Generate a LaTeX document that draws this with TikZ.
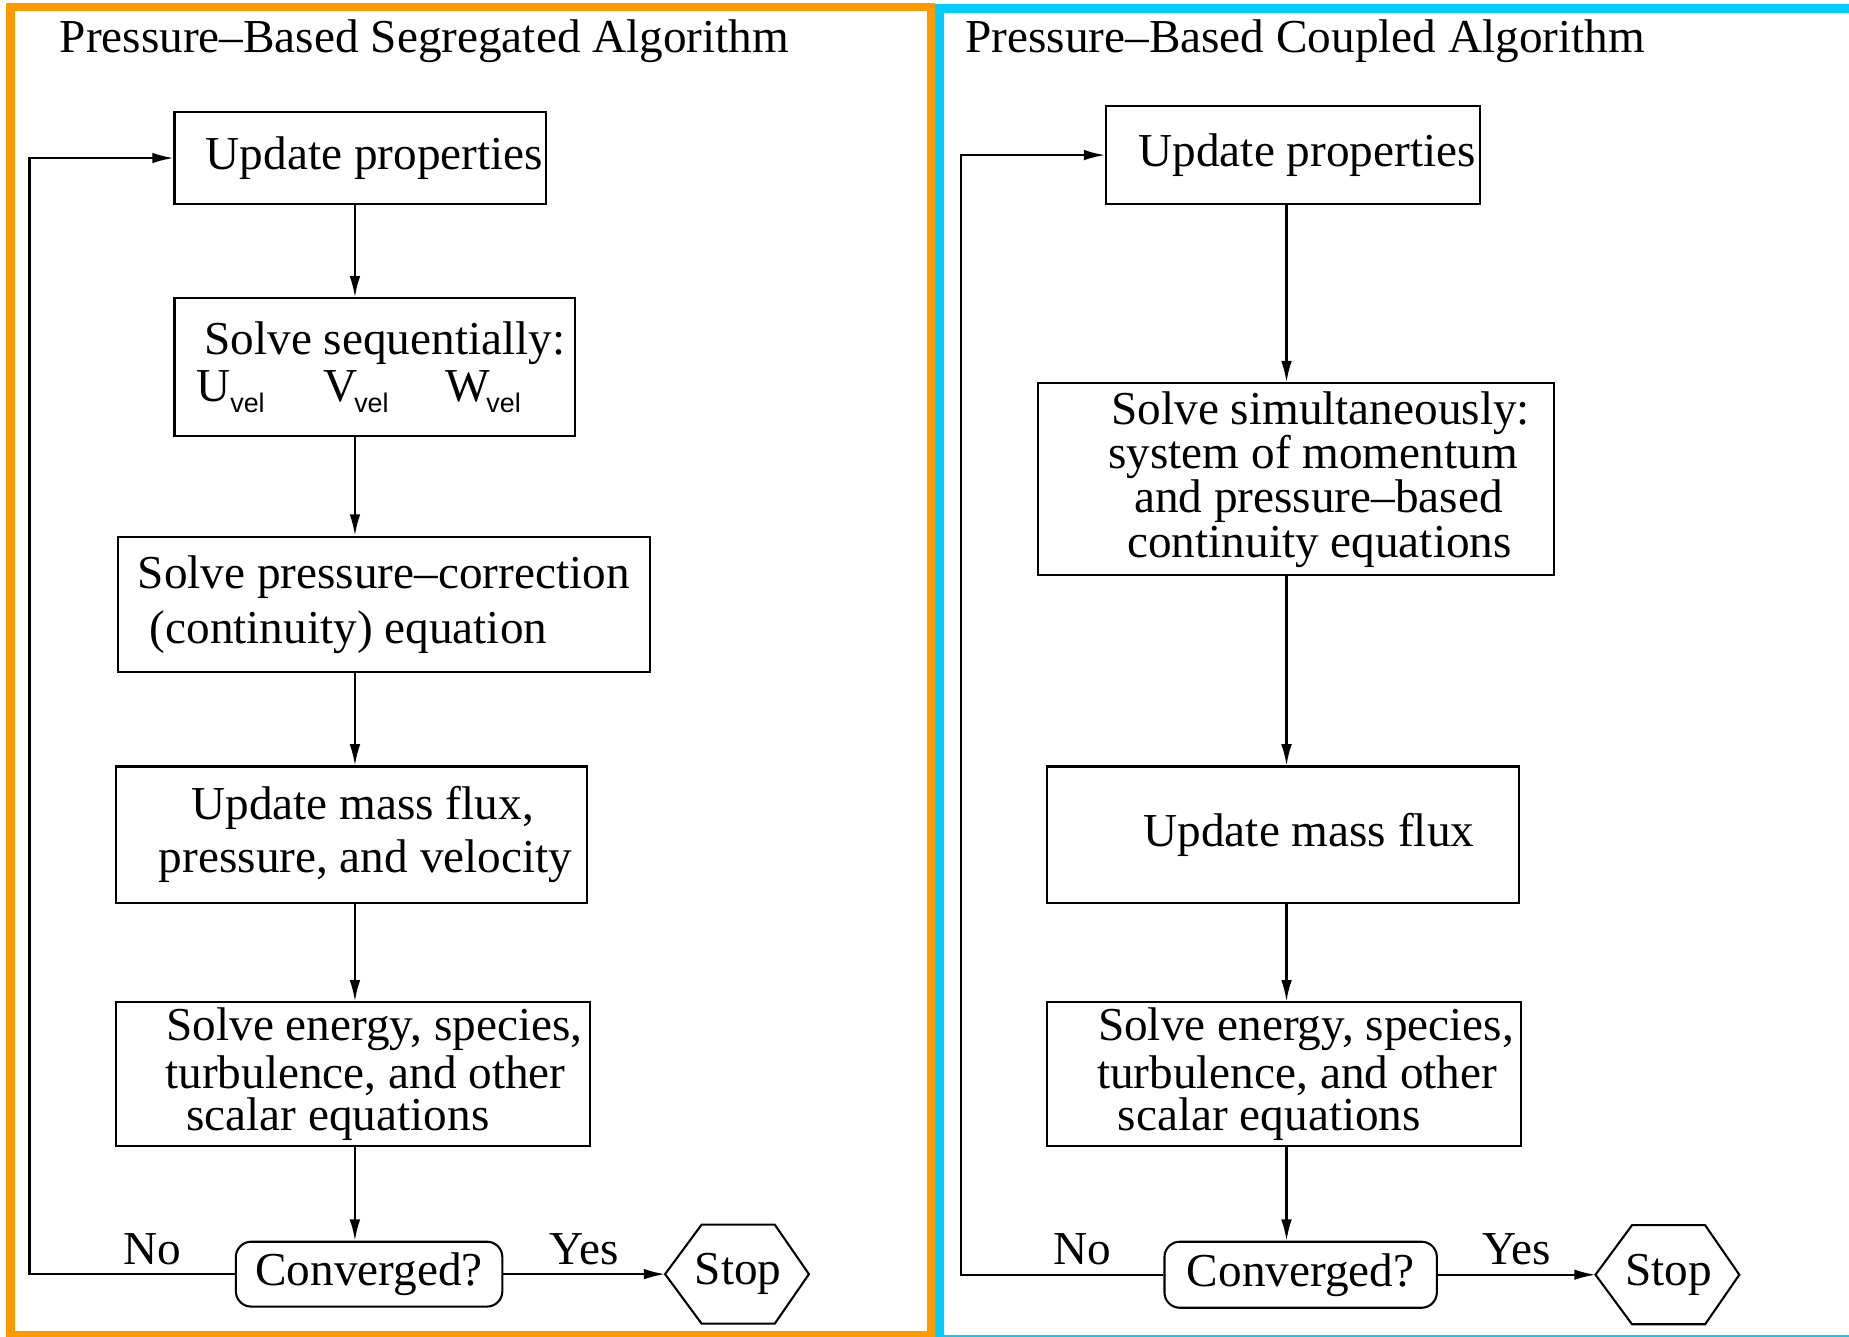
\documentclass[tikz,border=0pt]{standalone}
\usepackage{fontspec}
\setmainfont{Liberation Serif}
\setsansfont{Liberation Sans}
\usetikzlibrary{arrows.meta}
\definecolor{segorange}{HTML}{FF9900}
\definecolor{coupcyan}{HTML}{00CCFF}
\newcommand{\padl}[1]{\rule{#1}{0pt}}
\newcommand{\vel}[2][0mm]{#2\kern#1\raisebox{-0.5ex}{\sffamily\fontsize{6.5}{7}\selectfont vel}}
\begin{document}
\begin{tikzpicture}[x=0.1mm,y=-0.1mm,>={Latex[length=1.8mm,width=0.9mm]},
  every node/.style={font=\fontsize{11.4}{13}\selectfont},
  box/.style={draw,line width=0.5pt,inner sep=0pt,align=center},
  conv/.style={box,rounded corners=1.3mm},
  lbl/.style={above,inner sep=2pt},
  title/.style={anchor=west,inner sep=0pt},
  flow/.style={->,line width=0.5pt}]
  \useasboundingbox (0,0) rectangle (1568,1133);
  \draw[segorange,line width=0.7mm] (9,5.7) rectangle (789.5,1132.5);
  \draw[coupcyan,line width=0.75mm] (796.5,7) rectangle (1600,1136);

  % segregated
  \node[title] (ltitle) at (50,35) {Pressure--Based Segregated Algorithm};
  \node[box,minimum width=31.5mm,minimum height=7.8mm] (lup) at (305.5,134) {\padl{2.4mm}Update properties};
  \node[box,minimum width=34mm,minimum height=11.7mm,font=\fontsize{11.4}{11.5}\selectfont] (lseq) at (318,311.5)
    {\padl{1.7mm}Solve sequentially:\\ \vel{U}\hspace{5mm}\vel[-0.3mm]{V}\hspace{4.8mm}\vel[-0.3mm]{W}\padl{2.8mm}};
  \node[box,minimum width=45.1mm,minimum height=11.5mm,font=\fontsize{11.4}{13.3}\selectfont] (lpc) at (325.5,512.5)
    {Solve pressure--correction\\ (continuity) equation\padl{6mm}};
  \node[box,minimum width=40mm,minimum height=11.6mm,font=\fontsize{11.4}{12.8}\selectfont] (lmf) at (298,708)
    {\padl{1.9mm}Update mass flux,\\ \padl{2.4mm}pressure, and velocity};
  \node[box,minimum width=40.2mm,minimum height=12.2mm,font=\fontsize{11.4}{10.2}\selectfont] (len) at (299,911)
    {\padl{3.7mm}Solve energy, species,\\ \padl{2.2mm}turbulence, and other\\ scalar equations\padl{2.5mm}};
  \node[conv,minimum width=22.6mm,minimum height=5.5mm] (lconv) at (313,1080.5) {Converged?};
  \node[inner sep=0pt] (lstop) at (626,1080.5) {Stop};
  \draw[line width=0.5pt] ([shift={(-31,-42)}]lstop.center) -- ([shift={(31,-42)}]lstop.center)
    -- ([shift={(60,0)}]lstop.center) -- ([shift={(31,42)}]lstop.center)
    -- ([shift={(-31,42)}]lstop.center) -- ([shift={(-62,0)}]lstop.center) -- cycle;
  \coordinate (lstopin) at ([shift={(-62,0)}]lstop.center);
  \coordinate (lx) at (301,0);
  \coordinate (lloop) at (25,0);
  \draw[flow] (lup.south -| lx) -- (lseq.north -| lx);
  \draw[flow] (lseq.south -| lx) -- (lpc.north -| lx);
  \draw[flow] (lpc.south -| lx) -- (lmf.north -| lx);
  \draw[flow] (lmf.south -| lx) -- (len.north -| lx);
  \draw[flow] (len.south -| lx) -- (lconv.north -| lx);
  \draw[flow] (lconv.east) -- node[lbl]{Yes} (lstopin);
  \draw[flow] (lconv.west) -- node[lbl,pos=0.4]{No} (lconv.west -| lloop) |- (lup.west);

  % coupled
  \node[title] (rtitle) at (818,35) {Pressure--Based Coupled Algorithm};
  \node[box,minimum width=31.7mm,minimum height=8.3mm] (rup) at (1096.5,131.5) {\padl{2.4mm}Update properties};
  \node[box,minimum width=43.8mm,minimum height=16.3mm,font=\fontsize{11.4}{10.7}\selectfont] (rsim) at (1099,406.5)
    {\padl{4.2mm}Solve simultaneously:\\ \padl{2.9mm}system of momentum\\ \padl{3.8mm}and pressure--based\\ \padl{4mm}continuity equations};
  \node[box,minimum width=40mm,minimum height=11.6mm] (rmf) at (1088,708) {\padl{4.4mm}Update mass flux};
  \node[box,minimum width=40.2mm,minimum height=12.2mm,font=\fontsize{11.4}{10.2}\selectfont] (ren) at (1089,911)
    {\padl{3.7mm}Solve energy, species,\\ \padl{2.2mm}turbulence, and other\\ scalar equations\padl{2.5mm}};
  \node[conv,minimum width=23.1mm,minimum height=5.6mm] (rconv) at (1103,1081) {Converged?};
  \node[inner sep=0pt] (rstop) at (1415,1081) {Stop};
  \draw[line width=0.5pt] ([shift={(-31,-42)}]rstop.center) -- ([shift={(31,-42)}]rstop.center)
    -- ([shift={(60,0)}]rstop.center) -- ([shift={(31,42)}]rstop.center)
    -- ([shift={(-31,42)}]rstop.center) -- ([shift={(-62,0)}]rstop.center) -- cycle;
  \coordinate (rstopin) at ([shift={(-62,0)}]rstop.center);
  \coordinate (rx) at (1091,0);
  \coordinate (rloop) at (815,0);
  \draw[flow] (rup.south -| rx) -- (rsim.north -| rx);
  \draw[flow] (rsim.south -| rx) -- (rmf.north -| rx);
  \draw[flow] (rmf.south -| rx) -- (ren.north -| rx);
  \draw[flow] (ren.south -| rx) -- (rconv.north -| rx);
  \draw[flow] (rconv.east) -- node[lbl]{Yes} (rstopin);
  \draw[flow] (rconv.west) -- node[lbl,pos=0.4]{No} (rconv.west -| rloop) |- (rup.west);
\end{tikzpicture}
\end{document}
